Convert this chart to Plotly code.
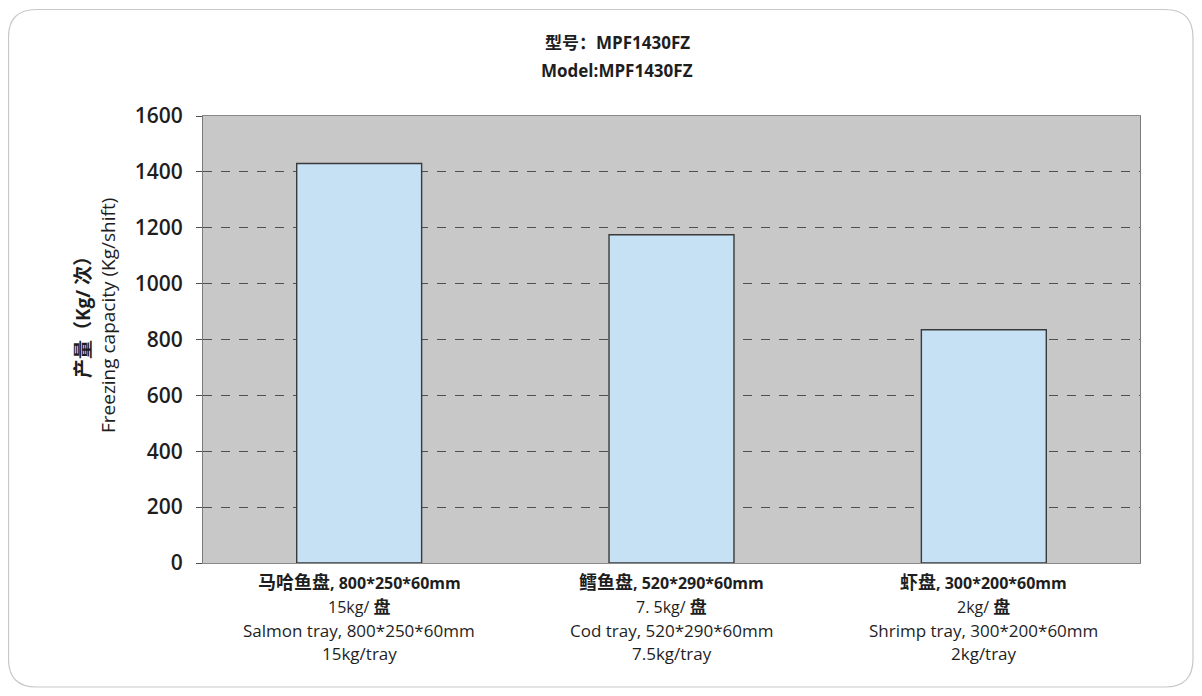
import plotly.graph_objects as go

# ---- data ----
categories = ["Salmon tray", "Cod tray", "Shrimp tray"]
capacity = [1430, 1175, 835]
name_cn = ["马哈鱼盘", "鳕鱼盘", "虾盘"]
dims = ["800*250*60mm", "520*290*60mm", "300*200*60mm"]
weight_cn = ["15kg/ ", "7. 5kg/ ", "2kg/ "]
label_en = ["Salmon tray, 800*250*60mm", "Cod tray, 520*290*60mm", "Shrimp tray, 300*200*60mm"]
label_en_w = ["15kg/tray", "7.5kg/tray", "2kg/tray"]
y_ticks = [0, 200, 400, 600, 800, 1000, 1200, 1400, 1600]
title_cn = "型号：MPF1430FZ"
title_en = "Model:MPF1430FZ"
ytitle_cn = "产量（Kg/ 次）"
ytitle_en = "Freezing capacity (Kg/shift)"

# page has an 8px body margin; work in reference pixel coords and shift
OFF = 8
W, H = 1202 - 2 * OFF, 696 - 2 * OFF
PL, PR, PT, PB = 203, 1140, 116, 563   # plot area in reference pixels
L, R, T, B = PL - OFF, W - (PR - OFF), PT - OFF, H - (PB - OFF)
PW, PH = PR - PL, PB - PT

FONT = "Open Sans, Noto Sans CJK SC, sans-serif"
TXT = "#1e1e1e"

fig = go.Figure()
fig.add_trace(go.Bar(
    x=categories, y=capacity, width=0.4,
    marker=dict(color="#c6e0f4", line=dict(color="#3a3a3a", width=1.4)),
))

fig.update_layout(
    width=W, height=H,
    margin=dict(l=L, r=R, t=T, b=B, autoexpand=False),
    paper_bgcolor="white", plot_bgcolor="#c8c8c8",
    showlegend=False,
    font=dict(family=FONT, color=TXT),
)
fig.update_xaxes(
    tickmode="array", tickvals=categories, showticklabels=False,
    showline=True, linecolor="#8a8a8a", linewidth=1, mirror=True,
    showgrid=False, ticks="",
)
fig.update_yaxes(
    range=[0, 1600], tickvals=y_ticks,
    tickfont=dict(size=21, family=FONT, color=TXT, weight=600),
    showline=True, linecolor="#7a7a7a", linewidth=1, mirror=True,
    showgrid=True, gridcolor="#505050", griddash="dash", gridwidth=1,
    ticks="outside", ticklen=6, tickcolor="#505050",
    ticklabelstandoff=9,
    zeroline=False,
)

def px_x(p):
    return (p - PL) / PW

def px_y(p):
    return (PB - p) / PH

def ann(text, x, y, size, weight=400, angle=0, xref="paper"):
    fig.add_annotation(text=text, xref=xref, yref="paper", x=x, y=y,
                       showarrow=False, textangle=angle,
                       xanchor="center", yanchor="middle",
                       font=dict(size=size, family=FONT, color=TXT, weight=weight))

# titles
ann(title_cn, px_x(617), px_y(43), 17, 700)
ann(title_en, px_x(617), px_y(70), 17, 700)
# y-axis titles
ann(ytitle_cn, px_x(83), px_y(313), 19, 700, -90)
ann(ytitle_en, px_x(108), px_y(316), 19, 400, -90)

# category labels, four lines each
for cat, n, dm, w, c, d in zip(categories, name_cn, dims, weight_cn, label_en, label_en_w):
    ann(f"<span style='font-size:18px'>{n}</span><span style='font-size:16px'>, {dm}</span>",
        cat, px_y(582), 16, 700, xref="x")
    ann(f"<span style='font-size:16px'>{w}</span><span style='font-size:17px'><b>盘</b></span>",
        cat, px_y(606), 16, 400, xref="x")
    ann(c, cat, px_y(630), 17, 400, xref="x")
    ann(d, cat, px_y(653), 17, 400, xref="x")

# rounded frame around the figure
x0, x1, y0, y1, r = 8.5, 1193, 9.5, 687, 28
rx, ry = r / PW, r / PH
X0, X1, Y0, Y1 = px_x(x0), px_x(x1), px_y(y0), px_y(y1)
path = (f"M {X0+rx},{Y0} L {X1-rx},{Y0} Q {X1},{Y0} {X1},{Y0-ry} "
        f"L {X1},{Y1+ry} Q {X1},{Y1} {X1-rx},{Y1} "
        f"L {X0+rx},{Y1} Q {X0},{Y1} {X0},{Y1+ry} "
        f"L {X0},{Y0-ry} Q {X0},{Y0} {X0+rx},{Y0} Z")
fig.add_shape(type="path", path=path, xref="paper", yref="paper",
              line=dict(color="#c8c8c8", width=1.2), layer="below")

fig.write_html("out.html")
